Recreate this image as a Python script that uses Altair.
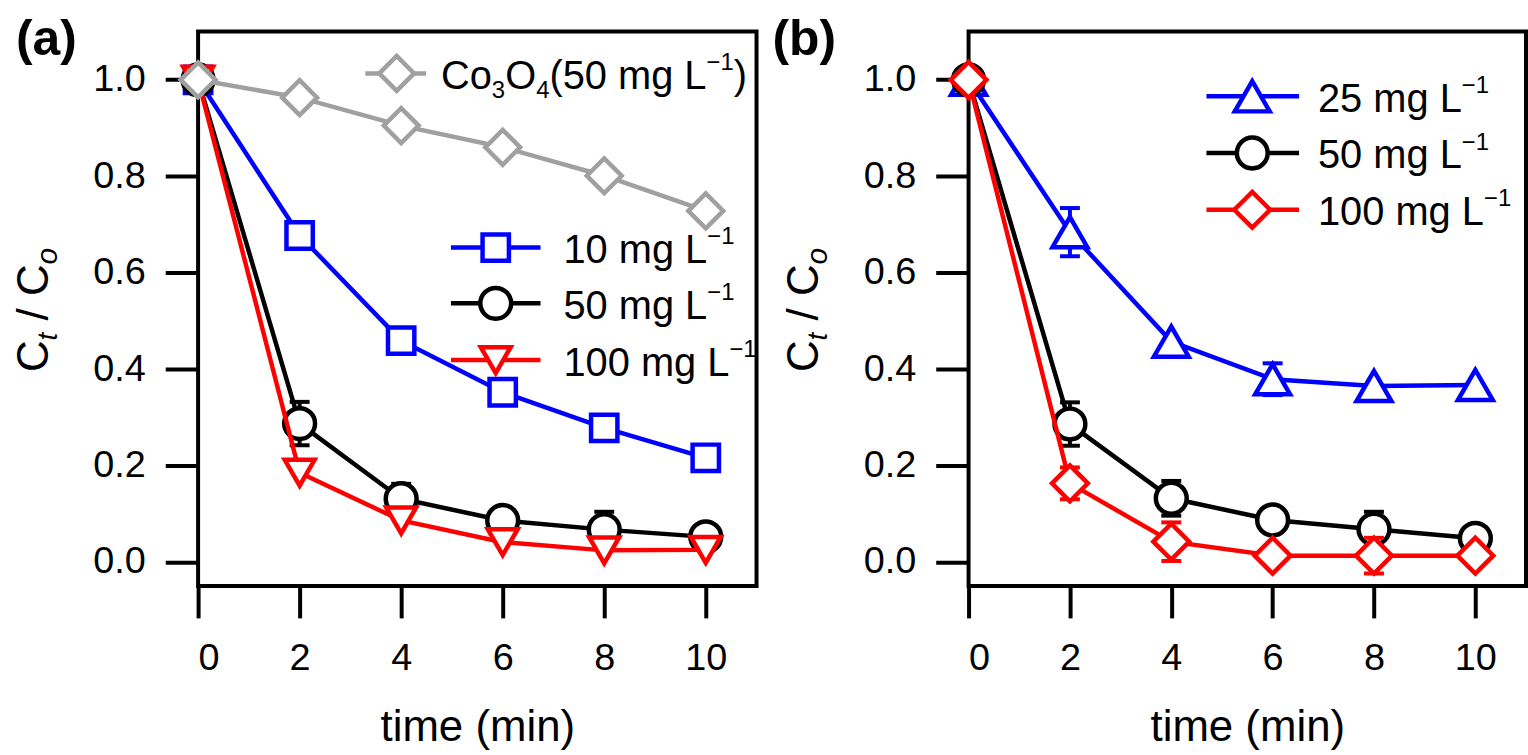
import altair as alt
import pandas as pd

FONT = "Liberation Sans"

# ---------------- data ----------------
time = [0, 2, 4, 6, 8, 10]

# panel (a)
a_co3o4 = [1.0, 0.963, 0.905, 0.860, 0.801, 0.728]
a_10 = [1.0, 0.677, 0.459, 0.352, 0.278, 0.216]
a_50 = [1.0, 0.287, 0.131, 0.086, 0.067, 0.052]
a_50_err = [0.0, 0.045, 0.031, 0.0, 0.037, 0.0]
a_100 = [1.0, 0.185, 0.086, 0.041, 0.024, 0.025]

# panel (b)
b_25 = [1.0, 0.684, 0.457, 0.379, 0.365, 0.367]
b_25_err = [0.0, 0.050, 0.0, 0.033, 0.0, 0.0]
b_50 = [1.0, 0.286, 0.132, 0.087, 0.068, 0.049]
b_50_err = [0.0, 0.045, 0.036, 0.0, 0.036, 0.0]
b_100 = [1.0, 0.163, 0.042, 0.013, 0.013, 0.013]
b_100_err = [0.0, 0.033, 0.040, 0.0, 0.037, 0.0]

x_ticks = [0, 2, 4, 6, 8, 10]
y_ticks = [0.0, 0.2, 0.4, 0.6, 0.8, 1.0]

BLUE, BLACK, RED, GRAY = "#0000ff", "#000000", "#ff0000", "#a0a0a0"

W_A, W_B, H = 561, 560, 557
X_DOMAIN = [0, 11]
Y_DOMAIN = [-0.05, 1.1]
LW = 4.5  # line / marker stroke width

# Arial / Liberation Sans advance widths (per 1000 em)
ADV = {' ': 278, '(': 333, ')': 333, '/': 278, '.': 278, '\u2212': 584,
       'C': 722, 'L': 556, 'O': 778, 'a': 556, 'b': 556, 'e': 556, 'g': 556,
       'i': 222, 'm': 833, 'n': 556, 'o': 556, 't': 278}


def tw(s, size):
    return sum(ADV.get(ch, 556) for ch in s) * size / 1000.0


def rich(parts, x, y, angle=0, weight="normal"):
    """parts: list of (text, fontsize, dy, style). Returns text layers."""
    layers = []
    off = 0.0
    for s, size, dy, style in parts:
        if s.strip():
            kw = dict(align="left", baseline="alphabetic", fontSize=size,
                      dx=off, dy=dy, font=FONT, color="black", fontWeight=weight)
            if angle:
                kw["angle"] = angle
            if style == "italic":
                kw["fontStyle"] = "italic"
            layers.append(
                alt.Chart(pd.DataFrame({"s": [s]}))
                .mark_text(**kw)
                .encode(x=alt.value(x), y=alt.value(y), text="s:N")
            )
        off += tw(s, size)
    return layers


def xenc(field="t"):
    return alt.X(f"{field}:Q", scale=alt.Scale(domain=X_DOMAIN, nice=False, zero=False),
                 axis=alt.Axis(values=x_ticks, format="d", title="time (min)"))


def yenc(field="c"):
    return alt.Y(f"{field}:Q", scale=alt.Scale(domain=Y_DOMAIN, nice=False, zero=False),
                 axis=alt.Axis(values=y_ticks, format=".1f", title=None))


def series(ys, color, shape, size, err=None):
    df = pd.DataFrame({"t": time, "c": ys})
    layers = [alt.Chart(df).mark_line(color=color, strokeWidth=LW).encode(x=xenc(), y=yenc())]
    if err is not None:
        rows = [(t, y - e, y + e) for t, y, e in zip(time, ys, err) if e > 0]
        edf = pd.DataFrame(rows, columns=["t", "lo", "hi"])
        layers.append(alt.Chart(edf).mark_rule(color=color, strokeWidth=4)
                      .encode(x=xenc(), y=yenc("lo"), y2="hi:Q"))
        for f in ("lo", "hi"):
            layers.append(alt.Chart(edf).mark_tick(orient="horizontal", color=color,
                                                   thickness=4, size=20, opacity=1)
                          .encode(x=xenc(), y=yenc(f)))
    layers.append(alt.Chart(df).mark_point(shape=shape, size=size, filled=True, fill="white",
                                           stroke=color, strokeWidth=LW, opacity=1)
                  .encode(x=xenc(), y=yenc()))
    return layers


def legend_row(x1, x2, xm, xt, y, color, shape, size, parts):
    one = pd.DataFrame({"k": [0]})
    layers = [
        alt.Chart(one).mark_rule(color=color, strokeWidth=LW)
        .encode(x=alt.value(x1), x2=alt.value(x2), y=alt.value(y)),
        alt.Chart(one).mark_point(shape=shape, size=size, filled=True, fill="white",
                                  stroke=color, strokeWidth=LW, opacity=1)
        .encode(x=alt.value(xm), y=alt.value(y)),
    ]
    layers += rich(parts, xt, y + 15.5)
    return layers


def conc(num):
    return [(num + " mg L", 40, 0, "n"), ("\u22121", 24, -19, "n")]


ytitle_parts = [("C", 44, 0, "n"), ("t", 28, 9, "italic"), (" ", 44, 0, "n"),
                ("/", 44, 0, "n"), (" ", 44, 0, "n"), ("C", 44, 0, "n"), ("o", 30, 9, "italic")]

# ---------------- panel (a) ----------------
SQ, CI, TRI_D, DIA_A = 700, 960, 900, 1225
la = []
la += series(a_10, BLUE, "square", SQ)
la += series(a_50, BLACK, "circle", CI, a_50_err)
la += series(a_100, RED, "triangle-down", TRI_D)
la += series(a_co3o4, GRAY, "diamond", DIA_A)
la += legend_row(168, 229, 199.5, 244, 42, GRAY, "diamond", DIA_A,
                 [("Co", 40, 0, "n"), ("3", 24, 9, "n"), ("O", 40, 0, "n"), ("4", 24, 9, "n"),
                  ("(50 mg L", 40, 0, "n"), ("\u22121", 24, -19, "n"), (")", 40, 0, "n")])
la += legend_row(254, 344, 299, 367, 217, BLUE, "square", SQ, conc("10"))
la += legend_row(254, 344, 299, 367, 273, BLACK, "circle", CI, conc("50"))
la += legend_row(254, 344, 299, 367, 330, RED, "triangle-down", TRI_D, conc("100"))
la += rich(ytitle_parts, -151, 342, angle=270)
la += rich([("(a)", 50, 0, "n")], -183, 24, weight="bold")
panel_a = alt.layer(*la).properties(width=W_A, height=H)

# ---------------- panel (b) ----------------
TRI_U, DIA_B = 1225, 1296
lb = []
lb += series(b_25, BLUE, "triangle-up", TRI_U, b_25_err)
lb += series(b_50, BLACK, "circle", CI, b_50_err)
lb += series(b_100, RED, "diamond", DIA_B, b_100_err)
lb += legend_row(239, 332, 285, 351, 65, BLUE, "triangle-up", TRI_U, conc("25"))
lb += legend_row(239, 332, 285, 351, 122, BLACK, "circle", CI, conc("50"))
lb += legend_row(239, 332, 285, 351, 179, RED, "diamond", DIA_B, conc("100"))
lb += rich(ytitle_parts, -151, 342, angle=270)
lb += rich([("(b)", 50, 0, "n")], -197, 24, weight="bold")
panel_b = alt.layer(*lb).properties(width=W_B, height=H)

chart = (
    alt.hconcat(panel_a, panel_b, spacing=11,
                padding={"left": 11, "top": 12, "right": 0, "bottom": 0})
    .configure(font=FONT, background="white")
    .configure_view(stroke="black", strokeWidth=4)
    .configure_axis(grid=False, domain=False, labelFont=FONT, titleFont=FONT,
                    labelColor="black", titleColor="black", tickColor="black",
                    tickWidth=4, labelFontSize=38, titleFontSize=44,
                    titleFontWeight="normal")
    .configure_axisX(tickSize=32, labelPadding=22, titlePadding=28)
    .configure_axisY(tickSize=33, labelPadding=20)
)

chart.save("out.html", embed_options={"renderer": "svg", "actions": False})
